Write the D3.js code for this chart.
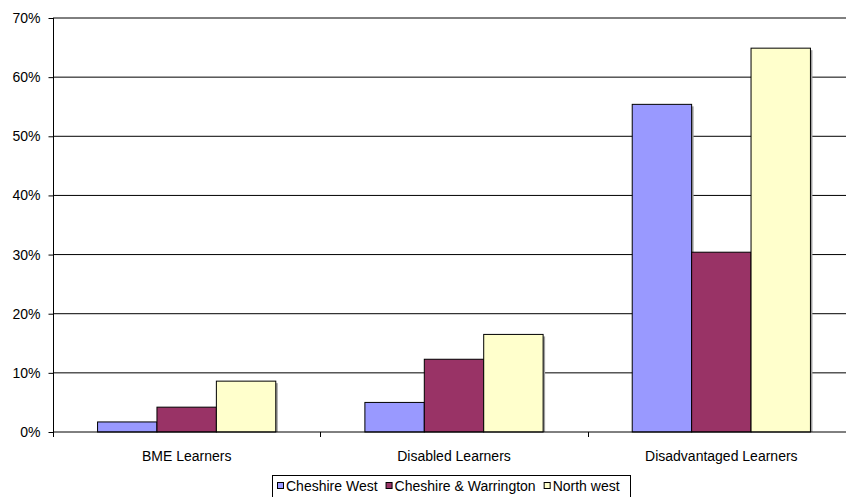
<!DOCTYPE html>
<html>
<head>
<meta charset="utf-8">
<script src="https://cdn.jsdelivr.net/npm/d3@7"></script>
<style>
html,body{margin:0;padding:0;background:#fff;overflow:hidden;}
svg{display:block;font-family:"Liberation Sans",Arial,sans-serif;}
</style>
</head>
<body>
<svg id="chart" width="846" height="497"></svg>
<script>
const categories = ["BME Learners", "Disabled Learners", "Disadvantaged Learners"];
const seriesNames = ["Cheshire West", "Cheshire & Warrington", "North west"];
const cheshireWest = [0.017, 0.050, 0.554];
const cheshireWarrington = [0.042, 0.123, 0.304];
const northWest = [0.086, 0.165, 0.649];
const seriesColors = ["#9999FF", "#993366", "#FFFFCC"];
const yTicks = [0, 0.1, 0.2, 0.3, 0.4, 0.5, 0.6, 0.7];

(function () {
const series = [cheshireWest, cheshireWarrington, northWest];
const svg = d3.select("#chart");

const pLeft = 53, pRight = 855, pTop = 18, pBottom = 432;
const x = d3.scaleBand().domain(categories).range([pLeft, pRight]).paddingInner(0).paddingOuter(0);
const y = d3.scaleLinear().domain([0, 0.7]).range([pBottom, pTop]);
const bw = x.bandwidth() / 4.5;
const groupOffset = x.bandwidth() * 0.75 / 4.5;
const xs = d3.scaleBand().domain(d3.range(series.length)).range([groupOffset, groupOffset + bw * 3]).padding(0);

// gridlines
svg.append("g").selectAll("line").data(yTicks.filter(d => d > 0)).join("line")
  .attr("x1", pLeft).attr("x2", 846).attr("y1", d => y(d)).attr("y2", d => y(d))
  .attr("stroke", "#000").attr("stroke-width", 1);

// bars
const rows = [];
categories.forEach((c, ci) => series.forEach((s, si) => rows.push({c, si, v: s[ci]})));
const bars = svg.append("g");
bars.selectAll("rect.shadow").data(rows).join("rect").attr("class", "shadow")
  .attr("x", d => x(d.c) + xs(d.si) + 2).attr("y", d => y(d.v) + 2)
  .attr("width", bw).attr("height", d => pBottom - y(d.v) - 2)
  .attr("fill", "#a0a0a0");
bars.selectAll("rect.bar").data(rows).join("rect").attr("class", "bar")
  .attr("x", d => x(d.c) + xs(d.si)).attr("y", d => y(d.v))
  .attr("width", bw).attr("height", d => pBottom - y(d.v))
  .attr("fill", d => seriesColors[d.si]).attr("stroke", "#000").attr("stroke-width", 1);

// x axis baseline
svg.append("line").attr("x1", pLeft).attr("x2", 846).attr("y1", pBottom).attr("y2", pBottom)
  .attr("stroke", "#000").attr("stroke-width", 1);

// y axis
const yAxis = d3.axisLeft(y).tickValues(yTicks).tickFormat(d3.format(".0%")).tickSize(5).tickPadding(8);
const ya = svg.append("g").attr("transform", `translate(${pLeft + 0.5},0)`).call(yAxis);
ya.select(".domain").remove();
ya.append("line").attr("x1", 0).attr("x2", 0).attr("y1", pTop).attr("y2", pBottom + 5).attr("stroke", "#000");
ya.selectAll(".tick line").attr("stroke", "#000");
ya.selectAll(".tick text").attr("font-size", "14px").attr("fill", "#000")
  .attr("font-family", "Liberation Sans, Arial, sans-serif");

// category ticks
const bounds = categories.map(c => x(c)).concat([pRight]);
svg.append("g").selectAll("line").data(bounds.slice(1)).join("line")
  .attr("x1", d => Math.round(d) + 0.5).attr("x2", d => Math.round(d) + 0.5)
  .attr("y1", pBottom).attr("y2", pBottom + 5).attr("stroke", "#000");

// category labels
svg.append("g").selectAll("text").data(categories).join("text")
  .attr("x", d => x(d) + x.bandwidth() / 2).attr("y", 461)
  .attr("text-anchor", "middle").attr("font-size", "14px").attr("fill", "#000").text(d => d);

// legend
const lg = svg.append("g");
lg.append("rect").attr("x", 272.5).attr("y", 475.5).attr("width", 358).attr("height", 30)
  .attr("fill", "#fff").attr("stroke", "#000").attr("stroke-width", 1);
let cx = 277;
seriesNames.forEach((n, i) => {
  lg.append("rect").attr("x", cx + 0.5).attr("y", 482.5).attr("width", 6).attr("height", 6)
    .attr("fill", seriesColors[i]).attr("stroke", "#000").attr("stroke-width", 1);
  const t = lg.append("text").attr("x", cx + 9).attr("y", 491).attr("font-size", "14px")
    .attr("fill", "#000").text(n);
  cx = cx + 9 + t.node().getComputedTextLength() + 8;
});
})();
</script>
</body>
</html>
